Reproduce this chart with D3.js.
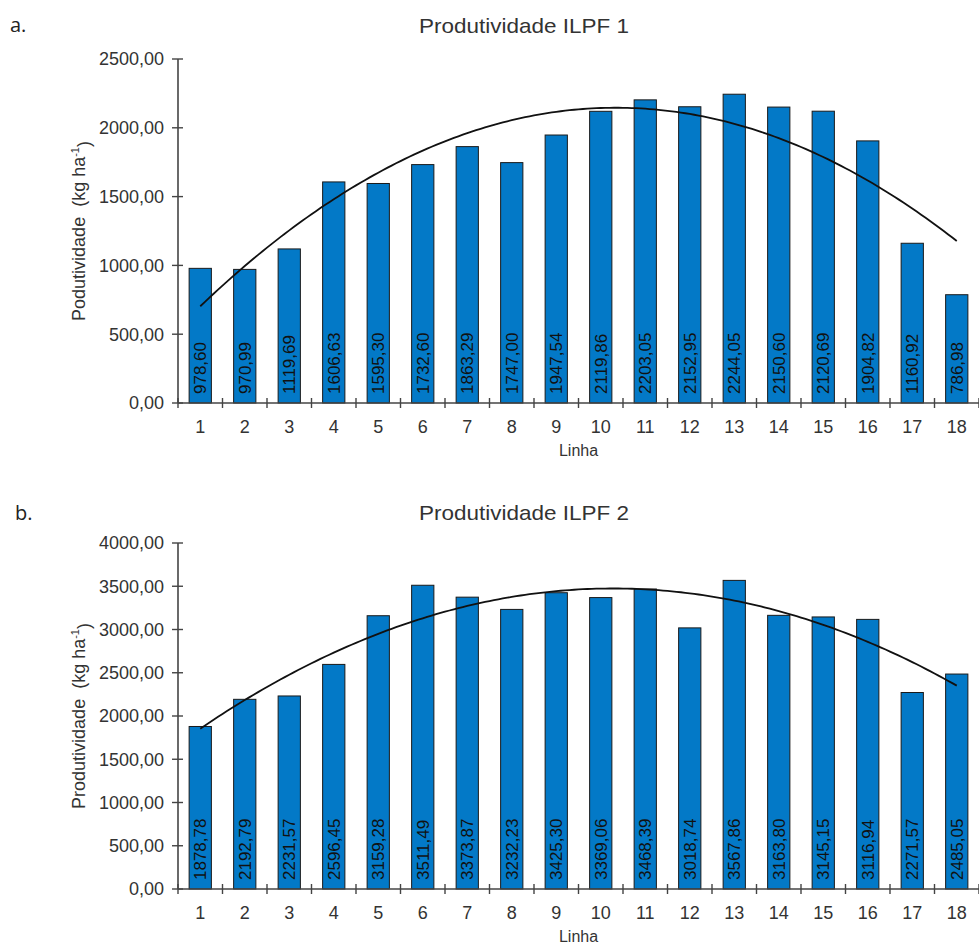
<!DOCTYPE html>
<html>
<head>
<meta charset="utf-8">
<script src="https://cdnjs.cloudflare.com/ajax/libs/d3/7.8.5/d3.min.js"></script>
<style>
  body { margin: 0; background: #fff; }
  text { font-family: "Liberation Sans", Arial, sans-serif; }
</style>
</head>
<body>
<div id="vis"></div>
<script>
var W = 979, H = 947;

var linhas = d3.range(1, 19);
var ilpf1 = [978.60, 970.99, 1119.69, 1606.63, 1595.30, 1732.60, 1863.29, 1747.00, 1947.54,
             2119.86, 2203.05, 2152.95, 2244.05, 2150.60, 2120.69, 1904.82, 1160.92, 786.98];
var ilpf2 = [1878.78, 2192.79, 2231.57, 2596.45, 3159.28, 3511.49, 3373.87, 3232.23, 3425.30,
             3369.06, 3468.39, 3018.74, 3567.86, 3163.80, 3145.15, 3116.94, 2271.57, 2485.05];
var ticks1 = [0, 500, 1000, 1500, 2000, 2500];
var ticks2 = [0, 500, 1000, 1500, 2000, 2500, 3000, 3500, 4000];

var locale = d3.formatLocale({decimal: ",", thousands: "", grouping: [3], currency: ["", ""]});
var fmt = locale.format(".2f");

var svg = d3.select("#vis").append("svg")
    .attr("width", W).attr("height", H)
    .attr("viewBox", [0, 0, W, H]);

// least squares 2nd order polynomial, like the spreadsheet trendline
function polyFit(xs, ys) {
    var s = [0, 0, 0, 0, 0], t = [0, 0, 0];
    xs.forEach((x, i) => {
        for (var k = 0; k < 5; k++) s[k] += Math.pow(x, k);
        for (var k = 0; k < 3; k++) t[k] += Math.pow(x, k) * ys[i];
    });
    var m = [[s[0], s[1], s[2], t[0]], [s[1], s[2], s[3], t[1]], [s[2], s[3], s[4], t[2]]];
    for (var i = 0; i < 3; i++) {
        for (var j = i + 1; j < 3; j++) {
            var f = m[j][i] / m[i][i];
            for (var k = i; k < 4; k++) m[j][k] -= f * m[i][k];
        }
    }
    var c = [0, 0, 0];
    for (var i = 2; i >= 0; i--) {
        var v = m[i][3];
        for (var k = i + 1; k < 3; k++) v -= m[i][k] * c[k];
        c[i] = v / m[i][i];
    }
    return x => c[0] + c[1] * x + c[2] * x * x;
}

function panel(opt) {
    var g = svg.append("g");
    var x = d3.scaleBand().domain(linhas).range([opt.left, W]).paddingInner(0.5).paddingOuter(0.25);
    var y = d3.scaleLinear().domain([0, opt.max]).range([opt.bottom, opt.top]);
    var step = x.step();

    g.append("text").attr("x", opt.letterX).attr("y", opt.letterY)
        .style("font-family", "'Open Sans', sans-serif").style("font-size", "20px").attr("fill", "#222")
        .text(opt.letter);
    g.append("text").attr("x", 524).attr("y", opt.titleY).attr("text-anchor", "middle")
        .attr("font-size", 21).attr("fill", "#333")
        .attr("textLength", 210).attr("lengthAdjust", "spacingAndGlyphs")
        .text(opt.title);

    // bars
    g.selectAll("rect.bar").data(opt.values).join("rect")
        .attr("class", "bar")
        .attr("x", (d, i) => x(linhas[i]))
        .attr("width", x.bandwidth())
        .attr("y", d => y(d))
        .attr("height", d => y(0) - y(d))
        .attr("fill", "#0379c7")
        .attr("stroke", "#1a1a1a")
        .attr("stroke-width", 1);

    g.selectAll("text.val").data(opt.values).join("text")
        .attr("class", "val")
        .attr("transform", (d, i) => "translate(" + (x(linhas[i]) + x.bandwidth() / 2) + "," + (y(0) - 9) + ") rotate(-90)")
        .attr("dy", "0.36em")
        .attr("font-size", 17).attr("fill", "#111")
        .text(d => fmt(d));

    // trend line
    var fit = polyFit(linhas, opt.values);
    var xl = d3.scaleLinear().domain([1, 18]).range([x(1) + x.bandwidth() / 2, x(18) + x.bandwidth() / 2]);
    var pts = d3.range(1, 18.001, 0.1);
    g.append("path").datum(pts)
        .attr("d", d3.line().x(d => xl(d)).y(d => y(fit(d))))
        .attr("fill", "none").attr("stroke", "#111").attr("stroke-width", 1.8);

    // y axis
    g.append("line").attr("x1", opt.left).attr("x2", opt.left)
        .attr("y1", y(0)).attr("y2", y(opt.max))
        .attr("stroke", "#444").attr("stroke-width", 1.6);
    g.selectAll("line.yt").data(opt.ticks).join("line")
        .attr("class", "yt")
        .attr("x1", opt.left - 6).attr("x2", opt.left + 5)
        .attr("y1", d => y(d)).attr("y2", d => y(d))
        .attr("stroke", "#444").attr("stroke-width", 1.4);
    g.selectAll("text.yl").data(opt.ticks).join("text")
        .attr("class", "yl")
        .attr("x", opt.left - 14).attr("y", d => y(d)).attr("dy", "0.35em")
        .attr("text-anchor", "end").attr("font-size", 18).attr("fill", "#333")
        .text(d => fmt(d));

    // x axis
    g.append("line").attr("x1", opt.left).attr("x2", W)
        .attr("y1", y(0)).attr("y2", y(0))
        .attr("stroke", "#444").attr("stroke-width", 1.6);
    g.selectAll("line.xt").data(d3.range(0, 19)).join("line")
        .attr("class", "xt")
        .attr("x1", d => opt.left + d * step).attr("x2", d => opt.left + d * step)
        .attr("y1", y(0) - 5).attr("y2", y(0) + 5)
        .attr("stroke", "#444").attr("stroke-width", 1.4);
    g.selectAll("text.xl").data(linhas).join("text")
        .attr("class", "xl")
        .attr("x", d => x(d) + x.bandwidth() / 2).attr("y", y(0) + 30)
        .attr("text-anchor", "middle").attr("font-size", 18).attr("fill", "#333")
        .text(d => d);
    g.append("text").attr("x", (opt.left + W) / 2).attr("y", y(0) + 53)
        .attr("text-anchor", "middle").attr("font-size", 16).attr("fill", "#333")
        .text("Linha");

    // y label
    var yl = g.append("text")
        .attr("transform", "translate(" + opt.labelX + "," + ((y(0) + y(opt.max)) / 2) + ") rotate(-90)")
        .attr("text-anchor", "middle").attr("dy", "0.35em")
        .attr("font-size", 18).attr("fill", "#333");
    yl.append("tspan").text(opt.ylabel + "\u00a0 (kg ha");
    yl.append("tspan").attr("font-size", 11).attr("dy", "-0.6em").text("-1");
    yl.append("tspan").attr("dy", "0.6em").text(")");
}

panel({letter: "a.", letterX: 10, letterY: 32, title: "Produtividade ILPF 1", titleY: 33,
       values: ilpf1, ticks: ticks1, max: 2500, top: 59, bottom: 403, left: 178,
       labelX: 79, ylabel: "Podutividade"});
panel({letter: "b.", letterX: 15, letterY: 520, title: "Produtividade ILPF 2", titleY: 520,
       values: ilpf2, ticks: ticks2, max: 4000, top: 543, bottom: 889, left: 178,
       labelX: 79, ylabel: "Produtividade"});
</script>
</body>
</html>
